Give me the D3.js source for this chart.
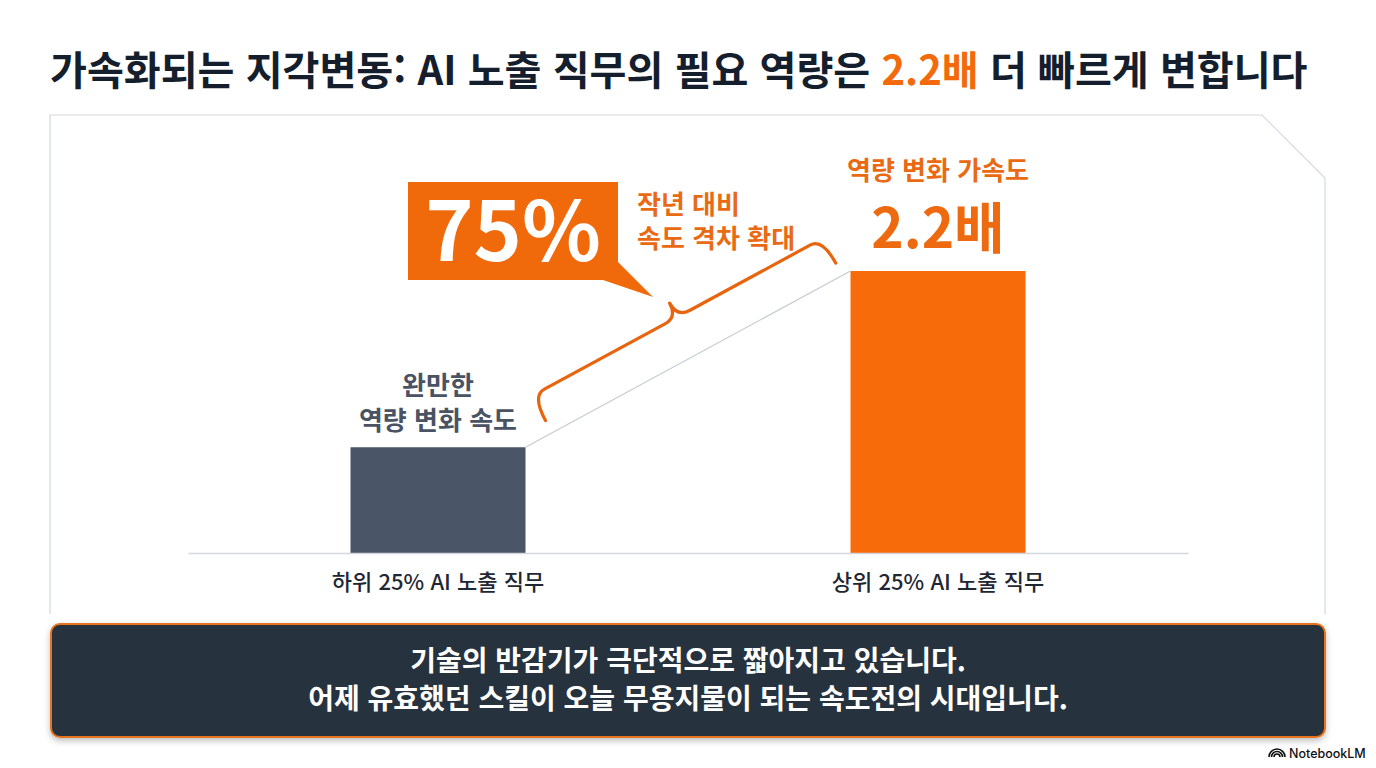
<!DOCTYPE html>
<html lang="ko">
<head>
<meta charset="utf-8">
<script src="https://cdn.jsdelivr.net/npm/d3@7"></script>
<style>
  html, body { margin: 0; padding: 0; background: #ffffff; }
  svg { display: block; font-family: "Noto Sans CJK KR", "Noto Sans", sans-serif; }
</style>
</head>
<body>
<div id="chart-wrap"></div>
<script>
// Data
const categories = ['하위 25% AI 노출 직무', '상위 25% AI 노출 직무'];
const speedValues = [1.0, 2.2];
const lowLabel = ['완만한', '역량 변화 속도'];
const highLabel = '역량 변화 가속도';
const highValueLabel = '2.2배';
const gapLabel = '75%';
const gapNote = ['작년 대비', '속도 격차 확대'];
const titleParts = ['가속화되는 지각변동: AI 노출 직무의 필요 역량은 ', '2.2배', ' 더 빠르게 변합니다'];
const summaryLines = ['기술의 반감기가 극단적으로 짧아지고 있습니다.', '어제 유효했던 스킬이 오늘 무용지물이 되는 속도전의 시대입니다.'];

const width = 1376;
const height = 768;
const orange = '#f26a0c';
const slate = '#4a5567';
const navy = '#141e2c';

const svg = d3.select('#chart-wrap').append('svg')
  .attr('width', width)
  .attr('height', height);

const defs = svg.append('defs');
const shadow = defs.append('filter').attr('id', 'shadow')
  .attr('x', '-5%').attr('y', '-20%').attr('width', '110%').attr('height', '150%');
shadow.append('feDropShadow')
  .attr('dx', 0).attr('dy', 3).attr('stdDeviation', 3)
  .attr('flood-color', '#000').attr('flood-opacity', 0.25);

// Title
const title = svg.append('text')
  .attr('x', 50)
  .attr('y', 85)
  .attr('font-size', 38)
  .attr('font-weight', 700)
  .attr('fill', navy);
title.selectAll('tspan')
  .data(titleParts)
  .enter()
  .append('tspan')
  .attr('fill', (d, i) => i === 1 ? orange : navy)
  .text(d => d);
// fit title to the width seen in the slide
const titleW = title.node().getComputedTextLength();
title.attr('font-size', 38 * 1258 / titleW);

// Panel with cut corner
svg.append('path')
  .attr('d', 'M50,614 L50,115 L1262,115 L1325,178 L1325,614')
  .attr('fill', '#ffffff')
  .attr('stroke', '#d3d8df')
  .attr('stroke-width', 1.2);

// Scales
const x = d3.scaleBand()
  .domain(categories)
  .range([188, 1188])
  .paddingInner(0.65)
  .paddingOuter(0.325);

const y = d3.scaleLinear()
  .domain([0.28, 2.2])
  .range([553, 271]);

const g = svg.append('g');

// Bars
g.selectAll('.bar')
  .data(speedValues)
  .enter()
  .append('rect')
  .attr('class', 'bar')
  .attr('x', (d, i) => x(categories[i]))
  .attr('y', d => y(d))
  .attr('width', x.bandwidth())
  .attr('height', d => y.range()[0] - y(d))
  .attr('fill', (d, i) => i === 0 ? slate : '#f76b0a');

// Axis
const axis = g.append('g')
  .attr('transform', `translate(0,${y.range()[0]})`)
  .call(d3.axisBottom(x).tickSize(0).tickPadding(21));
axis.select('.domain')
  .attr('stroke', '#d4d8de')
  .attr('stroke-width', 1.5);
axis.selectAll('text')
  .attr('font-family', '"Noto Sans CJK KR", sans-serif')
  .attr('font-size', 22)
  .attr('font-weight', 500)
  .attr('fill', '#1f2733');

// Connector between bar tops
const p0 = [x(categories[0]) + x.bandwidth(), y(speedValues[0])];
const p1 = [x(categories[1]), y(speedValues[1])];
g.append('line')
  .attr('x1', p0[0]).attr('y1', p0[1])
  .attr('x2', p1[0]).attr('y2', p1[1])
  .attr('stroke', '#c6cbd3')
  .attr('stroke-width', 1.2);

// Curly brace along the connector
const dx = p1[0] - p0[0];
const dy = p1[1] - p0[1];
const len = Math.sqrt(dx * dx + dy * dy);
const angle = Math.atan2(dy, dx) * 180 / Math.PI;
const bs = len * 0.082;
const be = len * 0.975;
const bm = (bs + be) / 2;
const y0 = -14;
const ya = y0 - 28;
const yt = y0 - 44;
const r = 14;
const tw = 14;
const bracePath = `M${bs},${y0} Q${bs},${ya} ${bs + r},${ya} L${bm - tw},${ya} Q${bm},${ya} ${bm},${yt}` +
  ` Q${bm},${ya} ${bm + tw},${ya} L${be - r},${ya} Q${be},${ya} ${be},${y0}`;
g.append('path')
  .attr('transform', `translate(${p0[0]},${p0[1]}) rotate(${angle})`)
  .attr('d', bracePath)
  .attr('fill', 'none')
  .attr('stroke', '#e8650f')
  .attr('stroke-width', 3.2)
  .attr('stroke-linecap', 'round')
  .attr('stroke-linejoin', 'round');

// Callout box
g.append('path')
  .attr('d', 'M408,182 L618,182 L618,262 L653,297 L603,280 L408,280 Z')
  .attr('fill', '#f06a0b');
g.append('text')
  .attr('x', 513)
  .attr('y', 261)
  .attr('text-anchor', 'middle')
  .attr('font-size', 82)
  .attr('font-weight', 700)
  .attr('fill', '#ffffff')
  .text(gapLabel);

g.selectAll('.gap-note')
  .data(gapNote)
  .enter()
  .append('text')
  .attr('class', 'gap-note')
  .attr('x', 637)
  .attr('y', (d, i) => 214 + i * 34)
  .attr('font-size', 26)
  .attr('font-weight', 700)
  .attr('fill', '#ea6a14')
  .text(d => d);

// Bar labels
const cx0 = x(categories[0]) + x.bandwidth() / 2;
const cx1 = x(categories[1]) + x.bandwidth() / 2;

g.selectAll('.low-label')
  .data(lowLabel)
  .enter()
  .append('text')
  .attr('class', 'low-label')
  .attr('x', cx0)
  .attr('y', (d, i) => y(speedValues[0]) - 52 + i * 35)
  .attr('text-anchor', 'middle')
  .attr('font-size', 26)
  .attr('font-weight', 700)
  .attr('fill', '#4a5363')
  .text(d => d);

g.append('text')
  .attr('x', cx1)
  .attr('y', y(speedValues[1]) - 91)
  .attr('text-anchor', 'middle')
  .attr('font-size', 26)
  .attr('font-weight', 700)
  .attr('fill', '#ea6a14')
  .text(highLabel);

g.append('text')
  .attr('x', cx1)
  .attr('y', y(speedValues[1]) - 23)
  .attr('text-anchor', 'middle')
  .attr('font-size', 55)
  .attr('font-weight', 700)
  .attr('fill', '#ee6a10')
  .text(highValueLabel);

// Summary box
svg.append('rect')
  .attr('x', 51)
  .attr('y', 624)
  .attr('width', 1274)
  .attr('height', 113)
  .attr('rx', 9)
  .attr('fill', '#27303c')
  .attr('stroke', '#e8731c')
  .attr('stroke-width', 2)
  .attr('filter', 'url(#shadow)');

svg.selectAll('.summary')
  .data(summaryLines)
  .enter()
  .append('text')
  .attr('class', 'summary')
  .attr('x', 688)
  .attr('y', (d, i) => 671 + i * 38)
  .attr('text-anchor', 'middle')
  .attr('font-size', 28)
  .attr('font-weight', 700)
  .attr('fill', '#ffffff')
  .text(d => d);

// NotebookLM mark
const logo = svg.append('g').attr('transform', 'translate(1277,757)');
[3, 5.5, 8].forEach((rad) => {
  logo.append('path')
    .attr('d', d3.arc()({ innerRadius: rad - 0.8, outerRadius: rad + 0.8, startAngle: -Math.PI / 2, endAngle: Math.PI / 2 }))
    .attr('fill', '#111');
});
svg.append('text')
  .attr('x', 1289)
  .attr('y', 758)
  .attr('font-family', 'Inter, "Noto Sans", sans-serif')
  .attr('font-size', 12.5)
  .attr('font-weight', 500)
  .attr('fill', '#111')
  .text('NotebookLM');
</script>
</body>
</html>
